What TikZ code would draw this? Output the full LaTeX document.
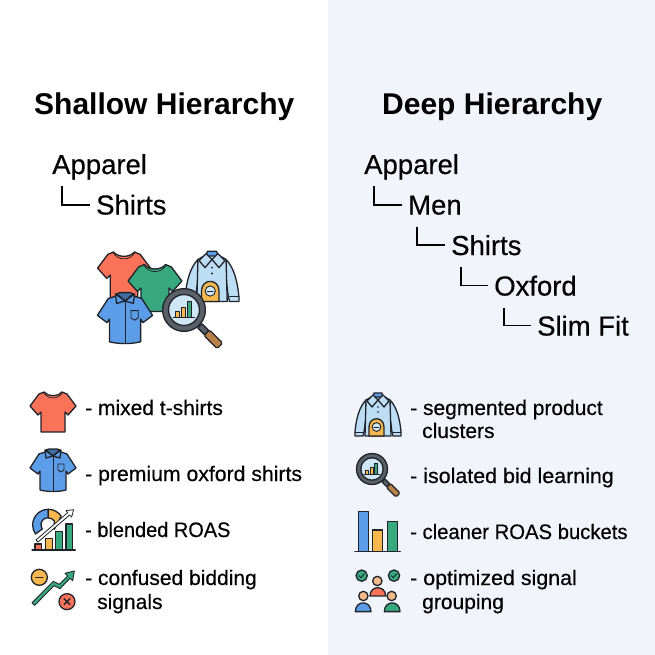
\documentclass[tikz,border=0pt]{standalone}
\usepackage{fontspec}
\setmainfont{Liberation Sans}
\newfontfamily\medfont[FakeBold=0.35]{Liberation Sans}
\definecolor{cred}{HTML}{FA7359}
\definecolor{cgreen}{HTML}{38A97F}
\definecolor{cblue}{HTML}{5B9DE8}
\definecolor{clight}{HTML}{BCDDF4}
\definecolor{cyel}{HTML}{F8B84E}
\definecolor{cbrown}{HTML}{B9824A}
\definecolor{cdark}{HTML}{20242A}
\definecolor{crim}{HTML}{5A6068}
\definecolor{clens}{HTML}{CFE6F7}
\definecolor{cpage}{HTML}{F1F4FB}
\definecolor{cskin}{HTML}{F3B98A}
\tikzset{
  ink/.style={draw=cdark,line width=1.3pt,line join=round,line cap=round},
  heading/.style={anchor=base west,inner sep=0pt,font=\fontsize{30}{30}\selectfont\bfseries,text=black},
  treelabel/.style={anchor=base west,inner sep=0pt,font=\medfont\fontsize{27.5}{28}\selectfont,text=black},
  legendlabel/.style={anchor=base west,inner sep=0pt,font=\medfont\fontsize{21}{22}\selectfont,text=black},
  elbow/.style={draw=black,line width=1.9pt},
  teeicon/.pic={
    \path[ink,fill=cred] (-9,-20) -- (-14,-18) -- (-23,-6) -- (-15,3) -- (-12,0) -- (-12,20) -- (12,20) -- (12,0) -- (15,3) -- (23,-6) -- (14,-18) -- (9,-20) .. controls (5,-15) and (-5,-15) .. cycle;
    \path[ink,line width=.7pt] (-10,-20) .. controls (-5,-12) and (5,-12) .. (10,-20);
  },
  greenteeicon/.pic={
    \path[ink,fill=cgreen] (-9,-20) -- (-14,-18) -- (-23,-6) -- (-15,3) -- (-12,0) -- (-12,20) -- (12,20) -- (12,0) -- (15,3) -- (23,-6) -- (14,-18) -- (9,-20) .. controls (5,-15) and (-5,-15) .. cycle;
    \path[ink,line width=.7pt] (-10,-20) .. controls (-5,-12) and (5,-12) .. (10,-20);
  },
  shirticon/.pic={
    \path[ink,fill=cblue] (-8,-19) -- (-14,-17) -- (-23,-3) -- (-15,3) -- (-13,0) -- (-13,19) .. controls (-5,21) and (5,21) .. (13,19) -- (13,0) -- (15,3) -- (23,-3) -- (14,-17) -- (8,-19) -- cycle;
    \path[ink,fill=cblue!70!black] (0,-15) -- (-7,-21) -- (-4,-22) -- (4,-22) -- (7,-21) -- cycle;
    \path[ink,fill=cblue] (0,-15) -- (-8,-21) -- (-7,-13) -- cycle (0,-15) -- (8,-21) -- (7,-13) -- cycle;
    \path[ink,line width=.9pt] (0,-14) -- (0,20);
    \path[ink,line width=.9pt] (5,-7) -- (11,-7) -- (11,-1) -- (8,1) -- (5,-1) -- cycle;
  },
  jacketicon/.pic={
    \path[ink,fill=clight] (-12,-15) .. controls (-19,-8) and (-22,5) .. (-23,17) -- (-23,21) -- (-15,21) -- (-14,17) -- (-12,2) -- cycle;
    \path[ink,fill=clight] (12,-15) .. controls (19,-8) and (22,5) .. (23,17) -- (23,21) -- (15,21) -- (14,17) -- (12,2) -- cycle;
    \path[ink,fill=clight] (-5,-19) -- (-12,-15) -- (-13,21) -- (13,21) -- (12,-15) -- (5,-19) -- cycle;
    \path[ink,line width=.8pt] (-23,17) -- (-15,17) (23,17) -- (15,17);
    \path[ink,fill=cblue] (-4,-22) -- (4,-22) -- (5,-18) -- (-5,-18) -- cycle;
    \path[ink,fill=clight] (0,-15) -- (-5,-20) -- (-11,-14) -- (-6,-8) -- cycle (0,-15) -- (5,-20) -- (11,-14) -- (6,-8) -- cycle;
    \fill[cdark] (0,-8) circle (.9) (0,-3) circle (.9);
    \path[ink,fill=cyel] (-9,21) -- (-9,12) .. controls (-9,1) and (6,1) .. (6,12) -- (6,21) -- cycle;
    \path[ink,line width=.9pt,fill=clens] (-1.5,12) circle (4.4);
    \path[ink,line width=.8pt] (-4,12) -- (1,12);
  },
  lensicon/.pic={
    \path[ink,fill=crim] (10,13) -- (13,10) -- (18,15) -- (15,18) -- cycle;
    \path[ink,fill=cbrown,rounded corners=1.5pt] (14.5,18.5) -- (18.5,14.5) -- (28,24) -- (24,28) -- cycle;
    \path[ink,fill=crim] (0,0) circle (15.5);
    \path[ink,fill=clens] (0,0) circle (11.2);
    \path[ink,line width=.6pt,fill=cyel] (-6.5,1) rectangle (-3.5,5);
    \path[ink,line width=.6pt,fill=cyel] (-2,-2) rectangle (1,5);
    \path[ink,line width=.6pt,fill=cgreen] (2.5,-6) rectangle (5.5,5);
    \path[ink,line width=.8pt] (-8,5) -- (8,5);
  }
}
\begin{document}
\begin{tikzpicture}[x=1pt,y=-1pt]
\useasboundingbox (0,0) rectangle (655,655);
\fill[white] (0,0) rectangle (328,655);
\fill[cpage] (328,0) rectangle (655,655);

% headings
\node[heading] (hshallow) at (34,114.5) {Shallow Hierarchy};
\node[heading] (hdeep) at (382,114.5) {Deep Hierarchy};

% left tree
\node[treelabel] (la) at (52,174) {Apparel};
\node[treelabel] (ls) at (96,214.5) {Shirts};
\draw[elbow] ([xshift=10pt,yshift=-12pt]la.base west) |- ([xshift=-6pt,yshift=9.5pt]ls.base west);

% right tree
\node[treelabel] (ra) at (364,174) {Apparel};
\node[treelabel] (rm) at (408,214.5) {Men};
\node[treelabel] (rs) at (451,255) {Shirts};
\node[treelabel] (ro) at (494,295.5) {Oxford};
\node[treelabel] (rf) at (537,335.5) {Slim Fit};
\draw[elbow] ([xshift=10pt,yshift=-12pt]ra.base west) |- ([xshift=-6pt,yshift=9.5pt]rm.base west);
\draw[elbow] ([xshift=9pt,yshift=-12pt]rm.base west) |- ([xshift=-6pt,yshift=10pt]rs.base west);
\draw[elbow] ([xshift=10pt,yshift=-12pt]rs.base west) |- ([xshift=-6pt,yshift=10pt]ro.base west);
\draw[elbow] ([xshift=10pt,yshift=-12pt]ro.base west) |- ([xshift=-6pt,yshift=10pt]rf.base west);

% central cluster
\pic[scale=1.15] at (124,275) {teeicon};
\pic[scale=1.17] at (212,277) {jacketicon};
\pic[scale=1.17] at (155,288) {greenteeicon};
\pic[scale=1.2] at (125,319) {shirticon};
\pic[scale=1.38] at (184,310) {lensicon};

% legend icons
\pic at (53,412) {teeicon};
\pic at (53,471) {shirticon};
\pic at (378,415) {jacketicon};
\pic at (372,469) {lensicon};

% blended ROAS
\begin{scope}[shift={(20,380)},x=.3333pt,y=-.3333pt]
  \path[ink,fill=cblue] (85,388) arc[start angle=270,end angle=145,radius=47] -- (67,447) arc[start angle=145,end angle=270,radius=22] -- cycle;
  \path[ink,fill=cyel] (85,388) arc[start angle=270,end angle=325,radius=47] -- (103,448) -- (103,423) arc[start angle=325,end angle=270,radius=22] -- cycle;
  \path[ink,fill=cred] (45,492) rectangle (65,510);
  \path[ink,fill=cyel] (77,475) rectangle (97,510);
  \path[ink,fill=cgreen] (107,455) rectangle (128,510);
  \path[ink,fill=cgreen] (138,432) rectangle (158,510);
  \path[ink] (36,510) -- (166,510);
  \path[ink,line width=.8pt,fill=white] (48,480) -- (143,398) -- (138,392) -- (161,389) -- (155,411) -- (149,405) -- (54,486) -- cycle;
  % confused bidding
  \path[ink,fill=cyel] (58,592) circle (24);
  \path[ink] (47,592) -- (69,592);
  \path[ink,fill=cred] (141,665) circle (24);
  \path[ink] (132,656) -- (150,674) (150,656) -- (132,674);
  \path[ink,line width=.9pt,fill=cgreen] (36,668) -- (100,604) -- (118,613) -- (143,588) -- (135,580) -- (163,573) -- (158,602) -- (150,595) -- (120,626) -- (102,617) -- (44,676) -- cycle;
\end{scope}

% right chart and group
\begin{scope}[shift={(345,380)},x=.3333pt,y=-.3333pt]
  \path[ink,fill=cblue] (40,395) rectangle (70,515);
  \path[ink,fill=cyel] (83,450) rectangle (113,515);
  \path[ink,fill=cgreen] (127,425) rectangle (157,515);
  \path[ink] (30,515) -- (166,515);
  % group
  \path[ink,fill=cgreen] (50,587) circle (17);
  \path[ink,fill=cgreen] (147,587) circle (17);
  \path[ink,line width=.9pt] (42,587) -- (48,593) -- (58,581);
  \path[ink,line width=.9pt] (139,587) -- (145,593) -- (155,581);
  \path[ink,fill=cskin] (97,603) circle (14);
  \path[ink,fill=cred] (75,648) .. controls (75,615) and (122,615) .. (122,648) -- cycle;
  \path[ink,fill=cskin] (55,648) circle (14);
  \path[ink,fill=cblue] (31,695) .. controls (31,660) and (78,660) .. (78,695) -- cycle;
  \path[ink,fill=cskin] (140,648) circle (14);
  \path[ink,fill=cgreen] (118,695) .. controls (118,660) and (165,660) .. (165,695) -- cycle;
\end{scope}

% left legend
\node[legendlabel] (l1) at (85,415) {- mixed t-shirts};
\node[legendlabel] (l2) at (85,481) {\scalebox{1.01}[1]{- premium oxford shirts}};
\node[legendlabel] (l3) at (85,537) {\scalebox{.95}[1]{- blended ROAS}};
\node[legendlabel] (l4) at (85,585) {- confused bidding};
\node[legendlabel] (l4b) at (97,609) {signals};

% right legend
\node[legendlabel] (r1) at (410,415) {- segmented product};
\node[legendlabel] (r1b) at (422,438) {clusters};
\node[legendlabel] (r2) at (410,483) {\scalebox{1.02}[1]{- isolated bid learning}};
\node[legendlabel] (r3) at (410,539) {\scalebox{.965}[1]{- cleaner ROAS buckets}};
\node[legendlabel] (r4) at (410,585) {\scalebox{1.02}[1]{- optimized signal}};
\node[legendlabel] (r4b) at (422,609) {grouping};
\end{tikzpicture}
\end{document}
